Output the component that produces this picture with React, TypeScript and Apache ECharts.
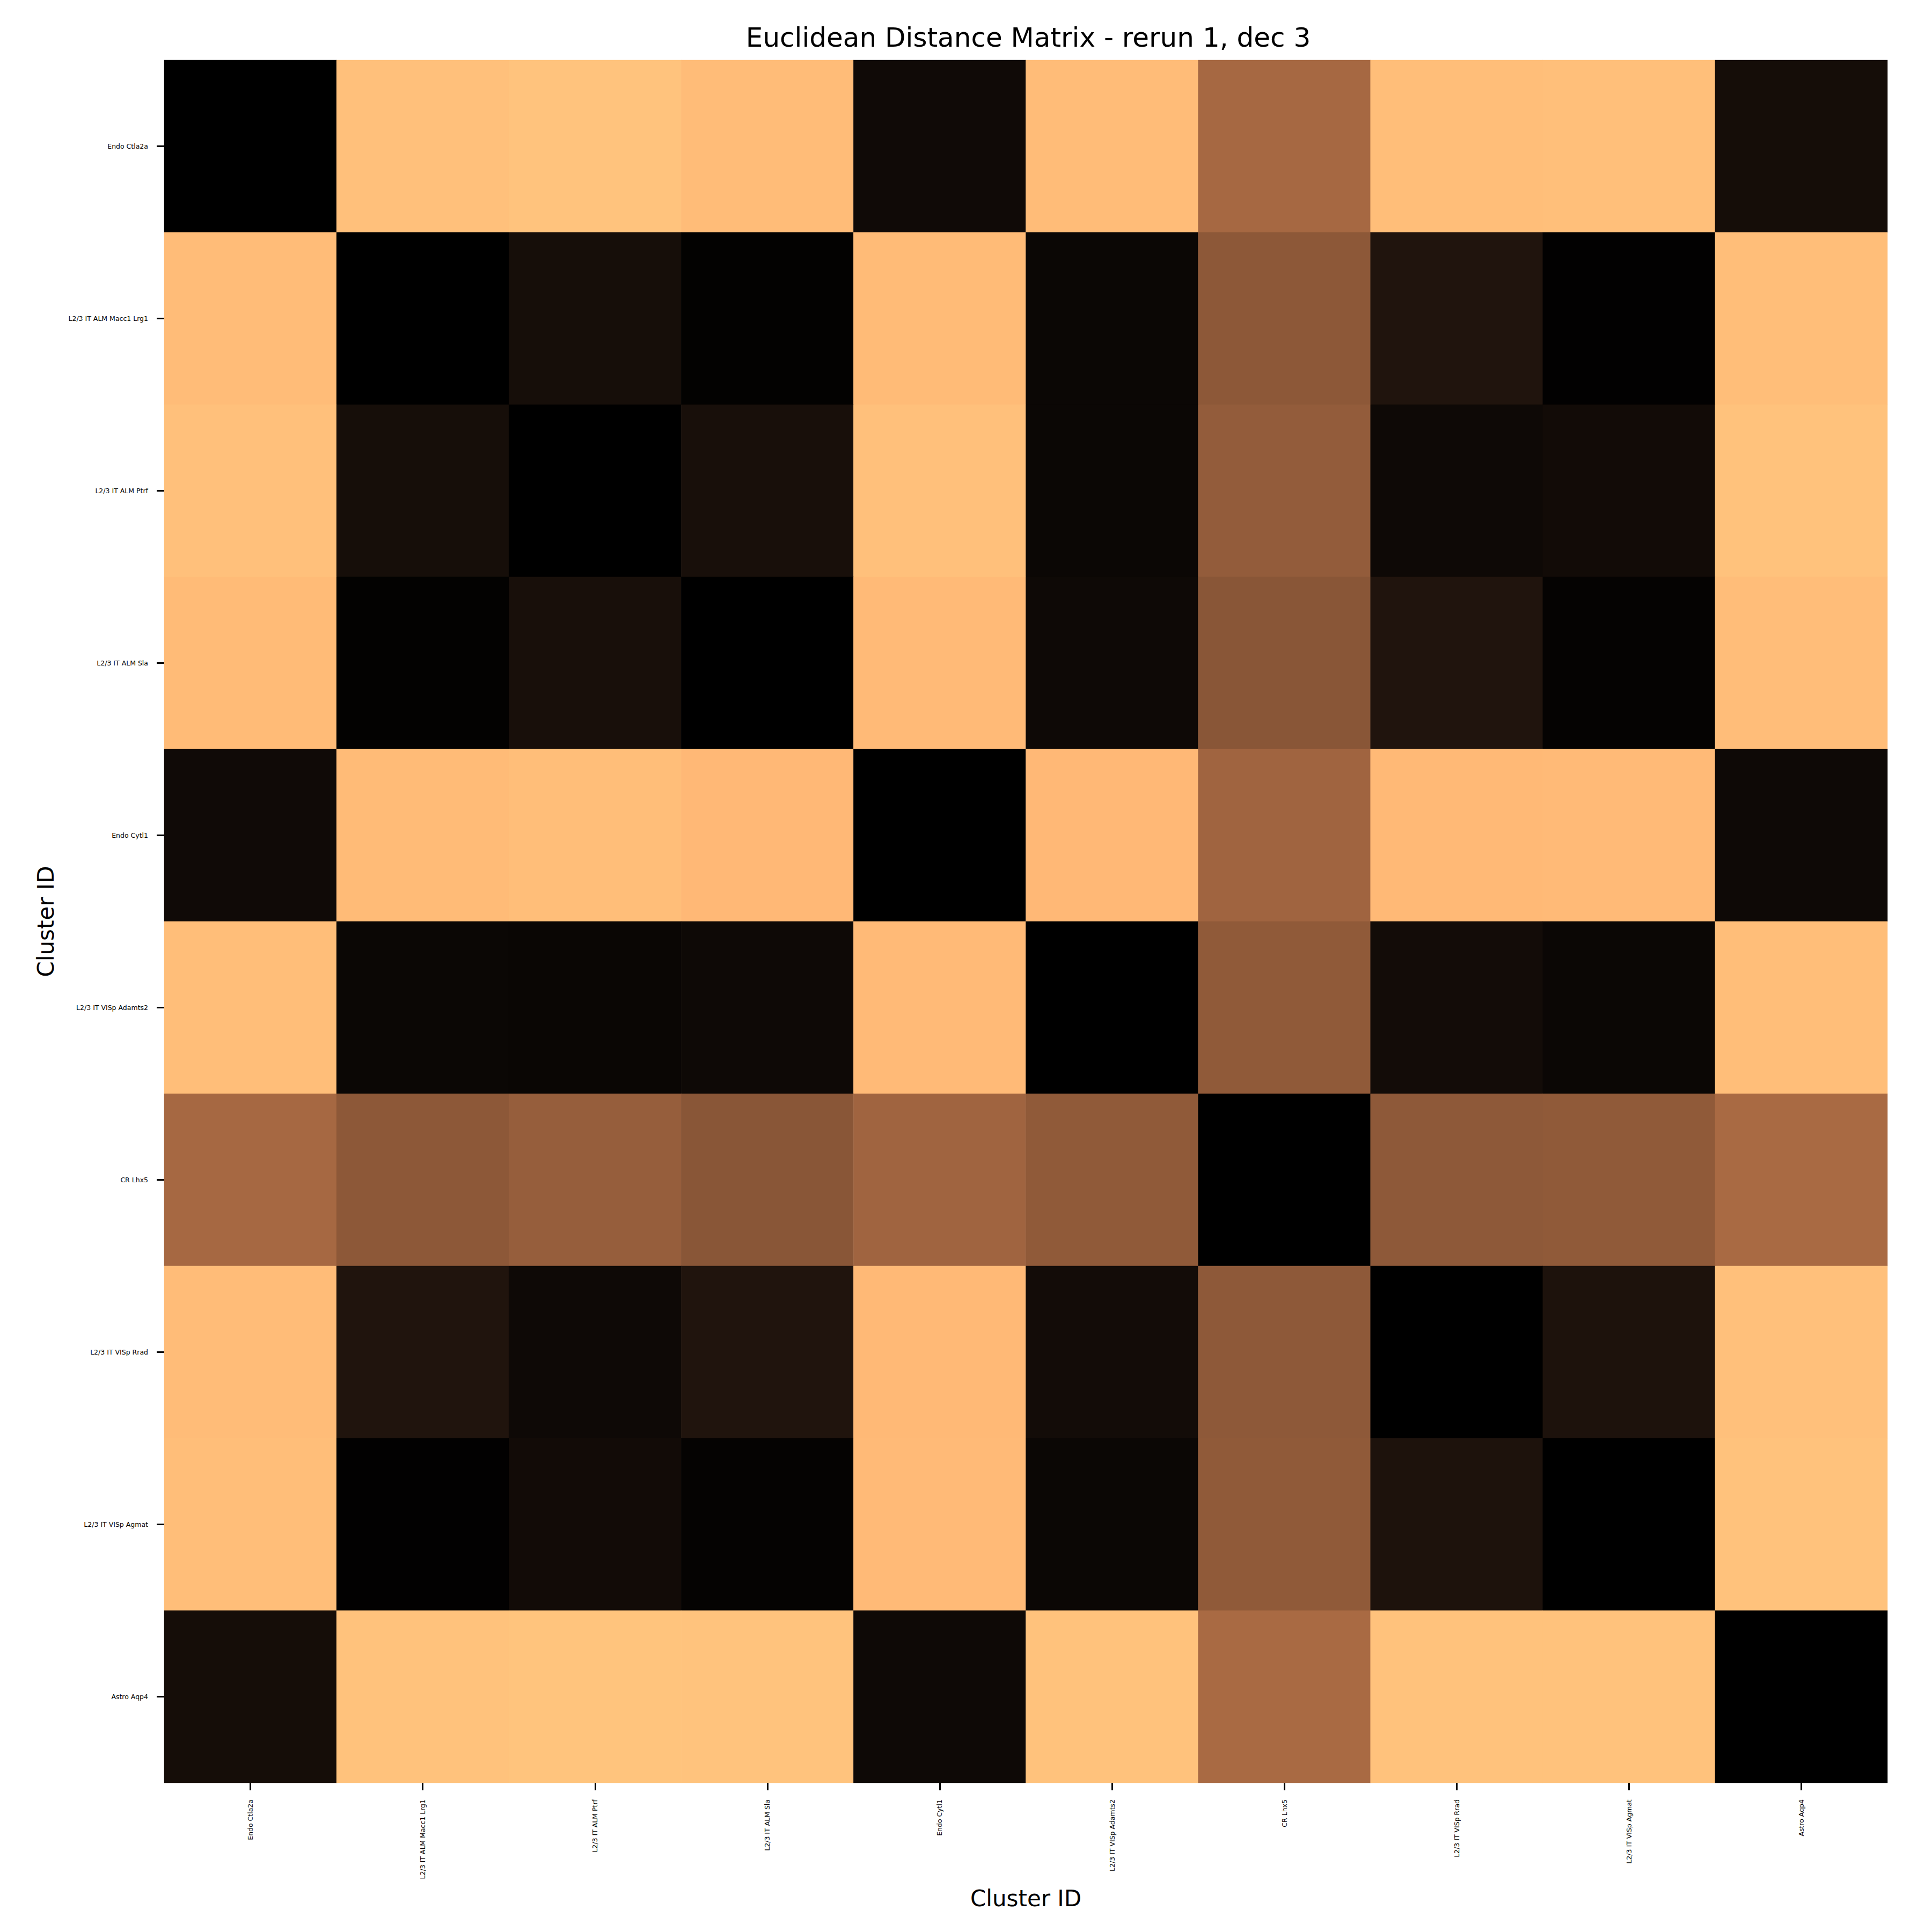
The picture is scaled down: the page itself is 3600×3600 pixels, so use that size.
import React, { useEffect, useRef } from "react";
import * as echarts from "echarts";

const clusters = [
  "Endo Ctla2a",
  "L2/3 IT ALM Macc1 Lrg1",
  "L2/3 IT ALM Ptrf",
  "L2/3 IT ALM Sla",
  "Endo Cytl1",
  "L2/3 IT VISp Adamts2",
  "CR Lhx5",
  "L2/3 IT VISp Rrad",
  "L2/3 IT VISp Agmat",
  "Astro Aqp4",
];

// Distances (normalised, 0 = identical)
const rowEndoCtla2a = [0, 0.965, 0.98, 0.944, 0.05, 0.944, 0.52, 0.955, 0.96, 0.065];
const rowAlmMacc1 = [0.944, 0, 0.07, 0.01, 0.94, 0.035, 0.44, 0.1, 0.005, 0.955];
const rowAlmPtrf = [0.965, 0.07, 0, 0.075, 0.965, 0.035, 0.46, 0.045, 0.055, 0.975];
const rowAlmSla = [0.94, 0.01, 0.075, 0, 0.935, 0.045, 0.43, 0.1, 0.015, 0.95];
const rowEndoCytl1 = [0.05, 0.94, 0.955, 0.925, 0, 0.925, 0.5, 0.93, 0.935, 0.045];
const rowVispAdamts2 = [0.955, 0.035, 0.03, 0.045, 0.935, 0, 0.45, 0.06, 0.035, 0.955];
const rowCrLhx5 = [0.52, 0.44, 0.47, 0.43, 0.5, 0.45, 0, 0.445, 0.45, 0.53];
const rowVispRrad = [0.945, 0.1, 0.045, 0.1, 0.93, 0.06, 0.445, 0, 0.09, 0.965];
const rowVispAgmat = [0.955, 0.005, 0.055, 0.015, 0.935, 0.035, 0.45, 0.09, 0, 0.975];
const rowAstroAqp4 = [0.065, 0.975, 0.985, 0.98, 0.045, 0.975, 0.53, 0.975, 0.975, 0];

const rows = [
  rowEndoCtla2a,
  rowAlmMacc1,
  rowAlmPtrf,
  rowAlmSla,
  rowEndoCytl1,
  rowVispAdamts2,
  rowCrLhx5,
  rowVispRrad,
  rowVispAgmat,
  rowAstroAqp4,
];

// matplotlib "copper" colormap (piecewise linear)
const copper = ["#000000", "#40281A", "#805033", "#BF784C", "#FF9F66", "#FFC77F"];

const FONT = "DejaVu Sans";

export default function App() {
  const ref = useRef<HTMLDivElement>(null);

  useEffect(() => {
    if (!ref.current) return;
    const chart = echarts.init(ref.current, null, { renderer: "svg" });
    const data: [number, number, number][] = [];
    rows.forEach((row, yi) => {
      row.forEach((v, xi) => data.push([xi, yi, v]));
    });
    const tickLabel = {
      fontFamily: FONT,
      fontSize: 12.5,
      color: "#000",
    };
    chart.setOption({
      animation: false,
      backgroundColor: "#ffffff",
      title: {
        text: "Euclidean Distance Matrix - rerun 1, dec 3",
        left: 1911,
        top: 40,
        textAlign: "center",
        textStyle: {
          fontFamily: FONT,
          fontSize: 50,
          fontWeight: "normal",
          color: "#000",
        },
      },
      grid: { left: 306, top: 112, width: 3211, height: 3210 },
      xAxis: {
        type: "category",
        data: clusters,
        name: "Cluster ID",
        nameLocation: "middle",
        nameGap: 194,
        nameTextStyle: { fontFamily: FONT, fontSize: 42, color: "#000" },
        axisLine: { show: false },
        axisTick: {
          show: true,
          alignWithLabel: true,
          length: 14,
          lineStyle: { color: "#000", width: 3 },
        },
        axisLabel: { ...tickLabel, rotate: 90, margin: 31, interval: 0 },
        splitLine: { show: false },
        splitArea: { show: false },
      },
      yAxis: {
        type: "category",
        data: clusters,
        inverse: true,
        name: "Cluster ID",
        nameLocation: "middle",
        nameGap: 200,
        nameRotate: 90,
        nameTextStyle: { fontFamily: FONT, fontSize: 42, color: "#000" },
        axisLine: { show: false },
        axisTick: {
          show: true,
          alignWithLabel: true,
          length: 14,
          lineStyle: { color: "#000", width: 3 },
        },
        axisLabel: { ...tickLabel, margin: 30, interval: 0 },
        splitLine: { show: false },
        splitArea: { show: false },
      },
      visualMap: {
        show: false,
        type: "continuous",
        min: 0,
        max: 1,
        inRange: { color: copper },
      },
      series: [
        {
          type: "heatmap",
          data,
          itemStyle: { borderWidth: 0 },
          emphasis: { disabled: true },
          label: { show: false },
        },
      ],
    });
    return () => chart.dispose();
  }, []);

  return (
    <div
      ref={ref}
      style={{ position: "fixed", left: 0, top: 0, width: 3600, height: 3600 }}
    />
  );
}
